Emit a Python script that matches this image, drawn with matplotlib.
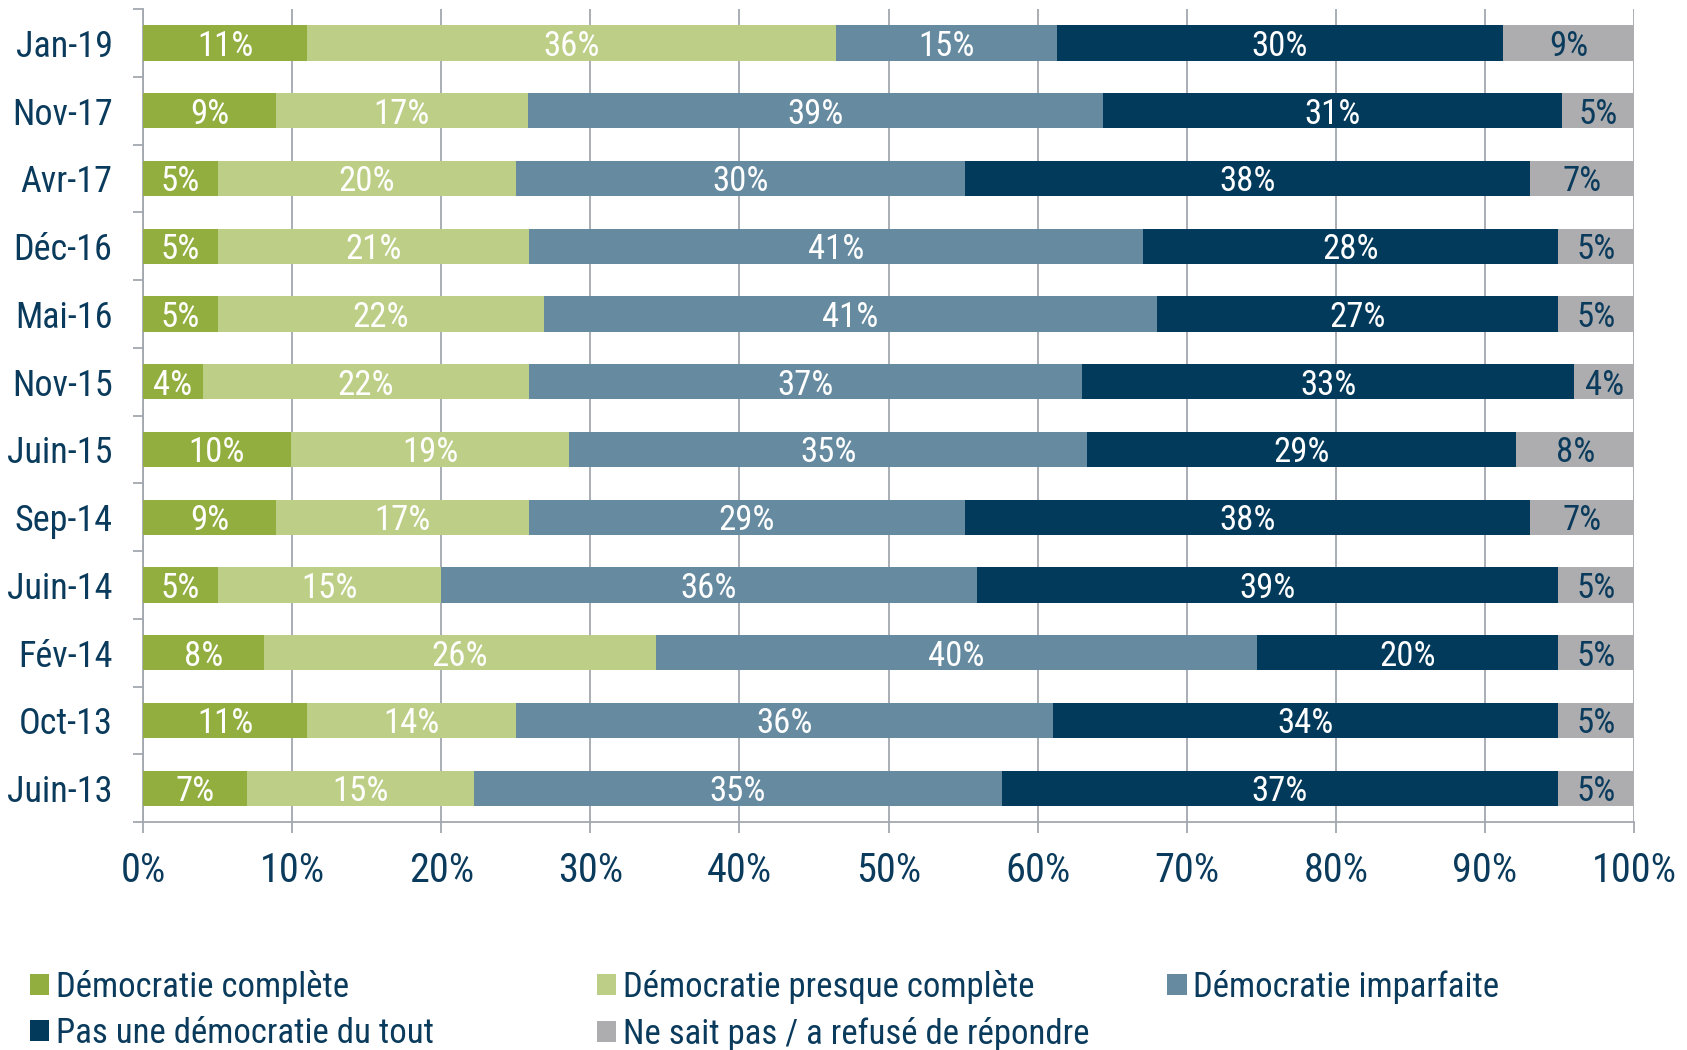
import matplotlib
matplotlib.use("Agg")
import matplotlib.pyplot as plt
import numpy as np

plt.rcParams['font.family'] = ['Roboto Condensed', 'DejaVu Sans']
plt.rcParams['font.stretch'] = 'condensed'

# périodes d'enquête, de haut en bas
periods = ["Jan-19", "Nov-17", "Avr-17", "Déc-16", "Mai-16", "Nov-15",
           "Juin-15", "Sep-14", "Juin-14", "Fév-14", "Oct-13", "Juin-13"]

series_names = ["Démocratie complète", "Démocratie presque complète",
                "Démocratie imparfaite", "Pas une démocratie du tout",
                "Ne sait pas / a refusé de répondre"]

complete = [11.0, 8.9, 5.0, 5.0, 5.0, 4.0, 9.9, 8.9, 5.0, 8.1, 11.0, 7.0]
presque = [35.5, 16.9, 20.0, 20.9, 21.9, 21.9, 18.7, 17.0, 15.0, 26.3, 14.0, 15.2]
imparfaite = [14.8, 38.6, 30.1, 41.2, 41.1, 37.1, 34.7, 29.2, 35.9, 40.3, 36.0, 35.4]
pas_du_tout = [29.9, 30.8, 37.9, 27.8, 26.9, 33.0, 28.8, 37.9, 39.0, 20.2, 33.9, 37.3]
nsp = [8.8, 4.8, 7.0, 5.1, 5.1, 4.0, 7.9, 7.0, 5.1, 5.1, 5.1, 5.1]

colors = ["#92AE3E", "#BDCF86", "#668BA0", "#023A5B", "#ADADAF"]
label_colors = ["white", "white", "white", "white", "#0B3B5C"]
text_color = "#0B3B5C"
grid_color = "#A3A7AF"

fig = plt.figure(figsize=(16.87, 10.5), dpi=100)
ax = fig.add_axes([0.0848, 0.2171, 0.8838, 0.7743])

data = [complete, presque, imparfaite, pas_du_tout, nsp]
left = np.zeros(len(periods))
containers = []
for vals, name, col, lcol in zip(data, series_names, colors, label_colors):
    bars = ax.barh(periods, vals, left=left, height=0.52, color=col,
                   label=name, zorder=3)
    texts = ax.bar_label(bars, labels=[f"{v:.0f}%" for v in vals],
                         label_type='center', color=lcol, fontsize=25)
    for t in texts:
        t.set_verticalalignment('center_baseline')
    containers.append(bars)
    left += np.array(vals)

ax.set_xlim(0, 100)
ax.set_ylim(11.5, -0.5)
ax.set_xticks(np.arange(0, 101, 10))
ax.set_xticklabels([f"{t}%" for t in range(0, 101, 10)])
ax.xaxis.grid(True, color=grid_color, linewidth=1.3, zorder=0)
ax.set_axisbelow(True)

for s in ["top", "right"]:
    ax.spines[s].set_visible(False)
for s in ["left", "bottom"]:
    ax.spines[s].set_color(grid_color)
    ax.spines[s].set_linewidth(1.3)

ax.tick_params(axis='x', colors=grid_color, length=8, width=1.3, pad=13,
               labelsize=29, labelcolor=text_color)
ax.tick_params(axis='y', which='major', length=0, pad=22, labelsize=26,
               labelcolor=text_color)
ax.set_yticks(np.arange(-0.5, 12, 1), minor=True)
ax.tick_params(axis='y', which='minor', length=7, width=1.3, colors=grid_color)

# légende sur deux lignes, colonnes à largeur fixe
col_x = [0.018, 0.354, 0.692]
groups = [[0, 3], [1, 4], [2]]
for x, idx in zip(col_x, groups):
    fig.legend([containers[i] for i in idx], [series_names[i] for i in idx],
               loc='upper left', bbox_to_anchor=(x, 0.076), frameon=False,
               fontsize=25, labelcolor=text_color, handlelength=0.55,
               handleheight=0.55, handletextpad=0.2, labelspacing=0.37,
               borderaxespad=0, borderpad=0)

fig.savefig("out.png", dpi=100)
